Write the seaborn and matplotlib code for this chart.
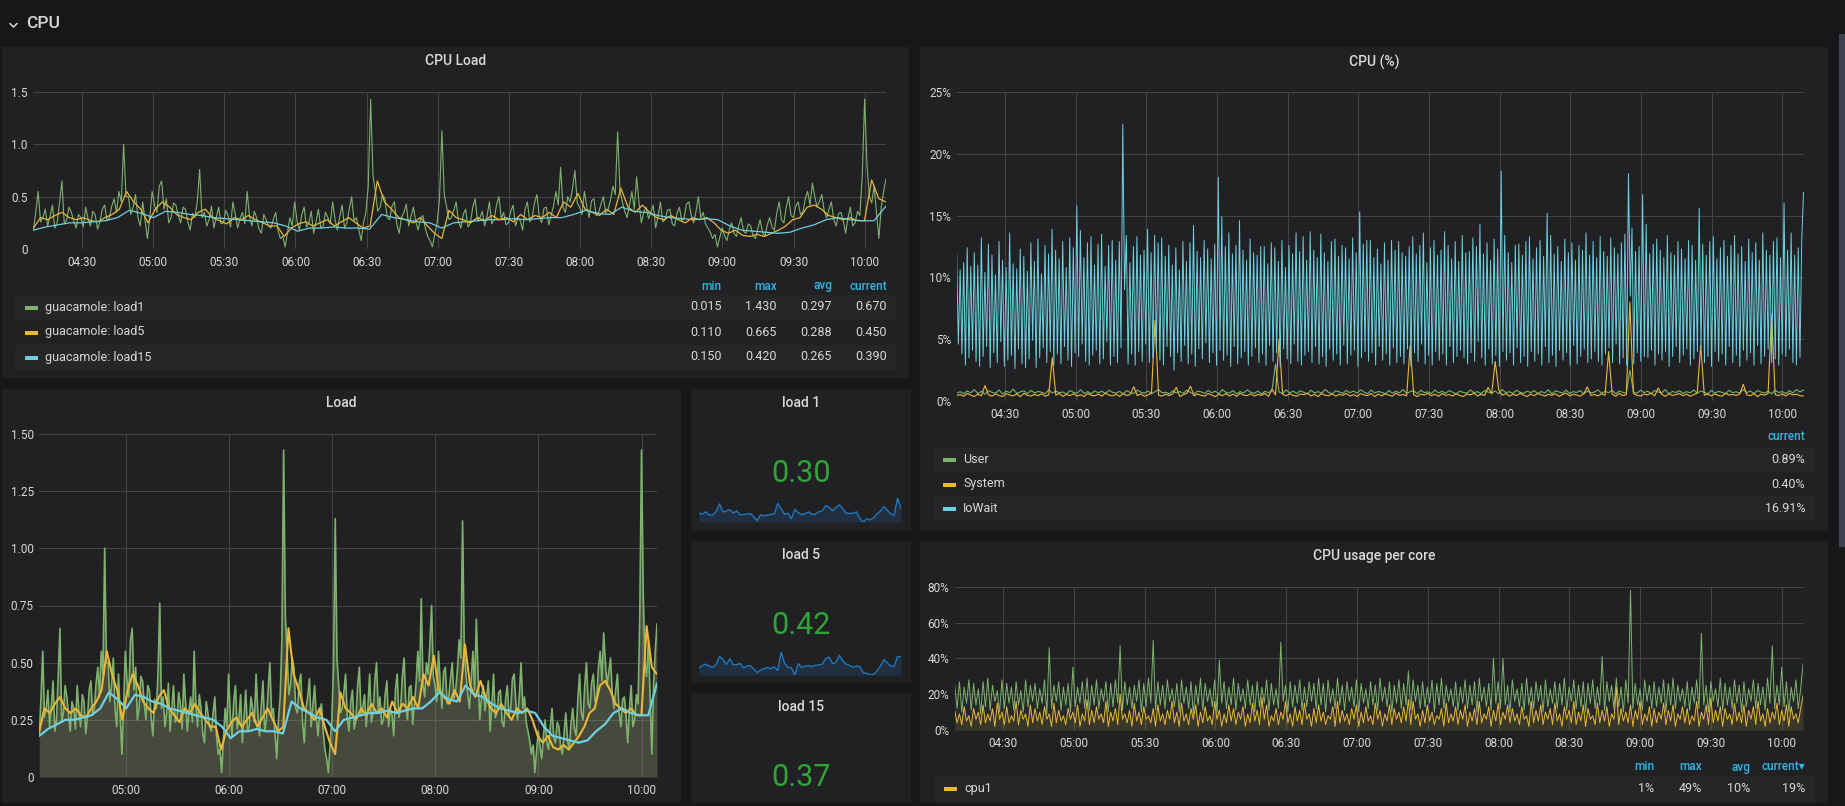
import numpy as np
import matplotlib
matplotlib.use('Agg')
import matplotlib.pyplot as plt
import seaborn as sns
from matplotlib.patches import Rectangle

W, H = 1845, 806

# time window shown by every graph, minutes after midnight (04:09.5 -> 10:09)
T_START = 249.5
T_END = 609.0

TICKS_30 = ['04:30', '05:00', '05:30', '06:00', '06:30', '07:00',
            '07:30', '08:00', '08:30', '09:00', '09:30', '10:00']
TICKS_60 = ['05:00', '06:00', '07:00', '08:00', '09:00', '10:00']

# load averages (~1 min apart for load1)
LOAD1 = [
    0.18, 0.35, 0.55, 0.26, 0.30, 0.38, 0.22, 0.31, 0.42, 0.20, 0.25, 0.44, 0.65, 0.24, 0.28, 0.40, 0.35, 0.27, 0.20, 0.33,
    0.30, 0.21, 0.40, 0.29, 0.22, 0.36, 0.33, 0.19, 0.26, 0.38, 0.42, 0.27, 0.30, 0.41, 0.48, 0.35, 0.55, 0.45, 1.00, 0.50,
    0.50, 0.33, 0.40, 0.52, 0.30, 0.22, 0.45, 0.28, 0.10, 0.30, 0.55, 0.42, 0.35, 0.60, 0.65, 0.38, 0.48, 0.25, 0.30, 0.44,
    0.42, 0.32, 0.25, 0.40, 0.38, 0.26, 0.18, 0.34, 0.30, 0.45, 0.76, 0.30, 0.35, 0.22, 0.28, 0.41, 0.20, 0.30, 0.40, 0.24,
    0.25, 0.37, 0.32, 0.21, 0.45, 0.33, 0.20, 0.29, 0.35, 0.24, 0.55, 0.31, 0.22, 0.36, 0.30, 0.19, 0.15, 0.33, 0.28, 0.22,
    0.20, 0.28, 0.35, 0.18, 0.10, 0.12, 0.02, 0.16, 0.30, 0.22, 0.45, 0.27, 0.18, 0.33, 0.40, 0.21, 0.25, 0.36, 0.15, 0.26,
    0.38, 0.20, 0.22, 0.35, 0.30, 0.24, 0.45, 0.28, 0.18, 0.31, 0.42, 0.20, 0.25, 0.38, 0.50, 0.27, 0.30, 0.19, 0.08, 0.25,
    0.35, 0.60, 1.43, 0.70, 0.55, 0.36, 0.40, 0.52, 0.48, 0.30, 0.28, 0.41, 0.45, 0.24, 0.15, 0.30, 0.35, 0.43, 0.22, 0.31,
    0.40, 0.26, 0.18, 0.29, 0.32, 0.20, 0.12, 0.08, 0.02, 0.14, 0.25, 0.48, 1.13, 0.52, 0.40, 0.28, 0.30, 0.37, 0.45, 0.26,
    0.20, 0.33, 0.38, 0.21, 0.25, 0.40, 0.48, 0.27, 0.30, 0.36, 0.22, 0.31, 0.45, 0.24, 0.28, 0.42, 0.50, 0.29, 0.35, 0.23,
    0.25, 0.36, 0.42, 0.22, 0.30, 0.27, 0.18, 0.38, 0.45, 0.26, 0.30, 0.44, 0.52, 0.31, 0.25, 0.39, 0.40, 0.23, 0.32, 0.41,
    0.55, 0.42, 0.78, 0.40, 0.35, 0.50, 0.45, 0.58, 0.75, 0.44, 0.40, 0.33, 0.55, 0.41, 0.30, 0.46, 0.48, 0.32, 0.35, 0.43,
    0.50, 0.34, 0.38, 0.47, 0.60, 0.52, 1.12, 0.55, 0.45, 0.36, 0.30, 0.42, 0.55, 0.38, 0.69, 0.44, 0.25, 0.35, 0.40, 0.29,
    0.35, 0.42, 0.20, 0.31, 0.45, 0.26, 0.28, 0.37, 0.38, 0.24, 0.22, 0.34, 0.40, 0.27, 0.30, 0.43, 0.45, 0.32, 0.25, 0.36,
    0.50, 0.30, 0.35, 0.24, 0.20, 0.16, 0.10, 0.14, 0.02, 0.11, 0.20, 0.13, 0.08, 0.18, 0.25, 0.15, 0.12, 0.22, 0.30, 0.17,
    0.15, 0.24, 0.22, 0.13, 0.10, 0.19, 0.28, 0.16, 0.12, 0.23, 0.30, 0.21, 0.18, 0.34, 0.45, 0.28, 0.25, 0.40, 0.50, 0.32,
    0.30, 0.41, 0.45, 0.33, 0.35, 0.48, 0.55, 0.42, 0.63, 0.50, 0.40, 0.46, 0.52, 0.36, 0.30, 0.38, 0.45, 0.28, 0.22, 0.34,
    0.35, 0.27, 0.15, 0.30, 0.40, 0.22, 0.25, 0.36, 0.32, 0.70, 1.43, 0.80, 0.50, 0.44, 0.60, 0.35, 0.10, 0.40, 0.55, 0.67,
]
LOAD5 = [
    0.20, 0.30, 0.28, 0.32, 0.35, 0.30, 0.28, 0.30, 0.27, 0.26,
    0.30, 0.33, 0.38, 0.55, 0.45, 0.38, 0.25, 0.38, 0.45, 0.40,
    0.33, 0.30, 0.28, 0.35, 0.38, 0.30, 0.27, 0.24, 0.30, 0.28,
    0.32, 0.28, 0.25, 0.22, 0.22, 0.12, 0.20, 0.24, 0.26, 0.22,
    0.25, 0.28, 0.22, 0.26, 0.30, 0.25, 0.20, 0.22, 0.65, 0.45,
    0.38, 0.30, 0.28, 0.25, 0.30, 0.22, 0.15, 0.10, 0.37, 0.30,
    0.28, 0.25, 0.30, 0.27, 0.32, 0.28, 0.30, 0.26, 0.33, 0.28,
    0.32, 0.30, 0.35, 0.30, 0.45, 0.40, 0.53, 0.38, 0.35, 0.32,
    0.38, 0.33, 0.58, 0.40, 0.35, 0.42, 0.35, 0.30, 0.28, 0.32,
    0.28, 0.25, 0.30, 0.28, 0.30, 0.25, 0.18, 0.15, 0.18, 0.13,
    0.12, 0.14, 0.12, 0.15, 0.18, 0.22, 0.28, 0.30, 0.40, 0.42,
    0.38, 0.32, 0.30, 0.28, 0.30, 0.27, 0.27, 0.66, 0.48, 0.45,
]
LOAD15 = [
    0.18, 0.21, 0.23, 0.25, 0.25, 0.26, 0.27, 0.30, 0.37, 0.34, 0.30, 0.36,
    0.35, 0.33, 0.32, 0.30, 0.29, 0.28, 0.27, 0.26, 0.25, 0.22, 0.17, 0.20,
    0.20, 0.21, 0.20, 0.20, 0.19, 0.33, 0.30, 0.28, 0.26, 0.25, 0.20, 0.25,
    0.26, 0.27, 0.28, 0.28, 0.29, 0.28, 0.29, 0.30, 0.30, 0.33, 0.37, 0.34,
    0.33, 0.40, 0.36, 0.35, 0.32, 0.30, 0.29, 0.28, 0.29, 0.28, 0.22, 0.18,
    0.17, 0.16, 0.15, 0.16, 0.20, 0.23, 0.28, 0.30, 0.28, 0.27, 0.27, 0.41,
]

# CPU (%) series
USER = [
    0.62, 0.75, 0.58, 0.81, 0.66, 0.92, 0.60, 0.78, 0.55, 0.84, 0.70, 0.63,
    0.88, 0.57, 0.79, 0.68, 0.95, 0.61, 0.74, 0.83, 0.59, 0.86, 0.65, 0.77,
    0.71, 0.58, 0.90, 0.64, 0.80, 0.67, 0.73, 0.56, 0.85, 0.69, 0.62, 0.91,
    0.60, 0.76, 0.58, 0.82, 0.66, 0.79, 0.61, 0.87, 0.70, 0.64, 0.78, 0.57,
    0.84, 0.68, 0.60, 0.89, 0.72, 0.63, 0.81, 0.59, 0.75, 0.93, 0.66, 0.71,
    0.58, 0.83, 0.65, 0.77, 0.62, 0.88, 0.69, 0.56, 0.80, 0.74, 0.61, 0.86,
    0.67, 0.79, 0.60, 0.92, 0.70, 0.63, 0.84, 0.58, 0.76, 0.65, 0.89, 0.71,
    0.62, 0.81, 0.57, 0.78, 0.68, 0.85, 3.00, 0.73, 0.60, 0.90, 0.66, 0.79,
    0.61, 0.83, 0.70, 0.58, 0.87, 0.65, 0.76, 0.63, 0.94, 0.69, 0.59, 0.82,
    0.74, 0.62, 0.86, 0.67, 0.80, 0.64, 0.91, 0.72, 0.60, 0.88, 0.65, 0.77,
    0.70, 0.58, 0.85, 0.63, 0.79, 0.66, 0.92, 0.61, 0.75, 0.83, 0.59, 0.87,
    0.68, 0.74, 0.60, 0.89, 0.65, 0.78, 0.62, 0.84, 0.71, 0.57, 0.80, 0.69,
    0.63, 0.90, 0.66, 0.76, 0.59, 0.85, 0.72, 0.64, 0.81, 0.58, 0.93, 0.67,
    0.75, 0.61, 0.87, 0.70, 0.62, 0.79, 0.68, 0.84, 0.60, 0.77, 0.65, 0.91,
    0.58, 0.82, 0.73, 0.64, 0.88, 0.61, 0.76, 0.69, 0.85, 0.57, 0.80, 0.66,
    0.72, 0.90, 0.63, 0.78, 0.67, 0.86, 0.59, 0.81, 0.70, 0.64, 2.50, 0.75,
    0.62, 0.88, 0.68, 0.79, 0.60, 0.84, 0.73, 0.65, 0.92, 0.58, 0.77, 0.69,
    0.83, 0.61, 0.76, 0.66, 0.89, 0.63, 0.80, 0.71, 0.57, 0.86, 0.64, 0.78,
    0.70, 0.59, 0.87, 0.67, 0.75, 0.62, 0.93, 0.68, 0.81, 0.60, 0.85, 0.72,
    0.64, 0.79, 0.58, 0.88, 0.69, 0.76, 0.61, 0.84, 0.66, 0.91, 0.73, 0.89,
]
SYSTEM = [
    0.45, 0.52, 0.38, 0.61, 0.47, 0.36, 0.55, 0.42, 1.25, 0.50, 0.39, 0.58,
    0.44, 0.36, 0.60, 0.48, 0.41, 0.57, 0.35, 0.63, 0.46, 0.40, 0.54, 0.43,
    0.59, 0.38, 0.50, 3.50, 0.47, 0.62, 0.37, 0.53, 0.44, 0.58, 0.40, 0.51,
    0.36, 0.61, 0.46, 0.42, 0.56, 0.39, 0.64, 0.48, 0.41, 0.55, 0.37, 0.60,
    0.45, 0.52, 1.15, 0.43, 0.58, 0.38, 0.49, 0.62, 6.50, 0.47, 0.40, 0.55,
    0.44, 0.59, 1.10, 0.36, 0.51, 0.63, 1.20, 0.42, 0.57, 0.46, 0.39, 0.61,
    0.48, 0.35, 0.54, 0.43, 0.60, 0.41, 0.56, 0.38, 0.62, 0.47, 0.44, 0.58,
    0.40, 0.53, 0.46, 0.61, 0.37, 0.95, 0.49, 5.00, 0.55, 0.42, 0.59, 0.45,
    0.38, 0.57, 0.50, 0.63, 0.41, 0.54, 0.36, 0.60, 0.47, 0.43, 0.58, 0.39,
    0.55, 0.46, 0.62, 0.40, 0.52, 0.37, 0.59, 0.48, 0.44, 0.61, 0.35, 0.56,
    0.42, 0.58, 0.47, 0.39, 0.64, 0.45, 0.53, 0.41, 4.50, 0.50, 0.36, 0.57,
    0.48, 0.62, 0.43, 0.55, 0.38, 0.60, 0.46, 0.52, 0.40, 0.59, 0.44, 0.37,
    0.56, 0.49, 0.63, 0.41, 0.53, 0.45, 1.10, 0.58, 3.20, 0.90, 0.47, 0.60,
    0.39, 0.55, 0.44, 0.62, 0.48, 0.36, 0.57, 0.43, 0.61, 0.50, 0.40, 0.54,
    0.46, 0.59, 0.37, 0.52, 0.64, 0.42, 0.55, 0.48, 0.39, 0.60, 1.15, 0.45,
    0.53, 0.41, 0.58, 0.47, 4.00, 0.56, 0.38, 0.62, 0.44, 0.51, 8.00, 0.61,
    0.46, 0.40, 0.57, 0.49, 0.63, 0.42, 1.05, 0.54, 0.37, 0.59, 0.45, 0.52,
    0.60, 0.43, 0.56, 0.38, 0.51, 0.64, 4.50, 0.47, 0.55, 0.41, 0.58, 0.44,
    0.39, 0.62, 0.48, 0.53, 0.45, 0.57, 1.35, 0.50, 0.42, 0.60, 0.36, 0.55,
    0.47, 0.61, 7.00, 0.52, 0.44, 0.58, 0.40, 0.63, 0.49, 0.56, 0.43, 0.40,
]
IOWAIT = [
    12.1, 4.6, 10.6, 3.8, 11.2, 2.9, 12.4, 3.5, 10.9, 4.1,
    12.0, 3.2, 11.0, 2.8, 13.2, 3.6, 10.4, 4.4, 12.7, 2.7,
    11.8, 3.9, 10.2, 3.1, 12.9, 4.8, 11.4, 2.8, 10.8, 3.3,
    13.6, 3.7, 11.1, 2.6, 10.7, 4.2, 12.3, 3.0, 11.7, 2.7,
    10.5, 3.4, 12.8, 4.9, 11.3, 2.7, 13.1, 3.5, 10.3, 4.3,
    12.6, 3.1, 11.9, 4.0, 13.9, 2.9, 12.2, 3.8, 11.5, 3.0,
    12.9, 4.4, 10.8, 3.3, 13.2, 2.8, 12.4, 3.9, 15.8, 3.6,
    13.8, 4.6, 11.6, 3.2, 12.8, 2.9, 13.3, 3.7, 11.0, 4.1,
    12.7, 3.0, 13.5, 3.4, 10.9, 4.8, 12.6, 2.9, 13.0, 3.6,
    11.4, 3.1, 12.9, 4.3, 22.4, 9.0, 13.4, 3.0, 11.2, 3.8,
    12.5, 2.9, 13.3, 4.0, 11.8, 3.2, 12.2, 4.6, 13.9, 3.1,
    12.0, 3.5, 13.4, 4.1, 12.8, 3.3, 13.2, 2.9, 11.7, 4.4,
    12.6, 3.6, 11.0, 2.5, 12.4, 3.9, 10.6, 3.2, 12.9, 4.5,
    11.3, 3.0, 12.8, 3.8, 14.2, 2.8, 12.1, 4.2, 11.6, 3.4,
    13.0, 4.7, 12.3, 3.1, 11.5, 3.9, 12.7, 2.9, 18.1, 4.1,
    14.9, 3.3, 12.5, 3.7, 13.6, 2.8, 11.9, 4.4, 12.6, 3.0,
    14.6, 3.5, 12.2, 4.0, 11.4, 2.9, 13.1, 3.6, 12.0, 4.3,
    11.8, 3.1, 12.5, 3.8, 12.5, 2.9, 11.1, 4.5, 12.8, 3.2,
    12.4, 3.9, 11.3, 2.8, 13.0, 4.2, 10.8, 3.4, 12.6, 3.0,
    11.9, 4.6, 13.6, 3.2, 12.1, 2.9, 13.3, 3.7, 11.4, 4.0,
    13.7, 3.1, 12.2, 4.4, 11.6, 3.0, 13.5, 3.6, 12.0, 2.8,
    11.3, 4.2, 12.9, 3.3, 13.1, 3.8, 11.7, 2.9, 12.6, 4.5,
    12.4, 3.0, 11.5, 3.7, 13.2, 4.1, 12.0, 2.8, 15.3, 3.5,
    12.7, 4.0, 13.0, 3.2, 13.0, 3.9, 11.6, 2.9, 12.3, 4.4,
    11.1, 3.3, 12.8, 3.8, 11.4, 2.9, 13.0, 4.3, 12.2, 3.1,
    12.9, 3.6, 12.0, 3.0, 11.7, 4.2, 12.5, 2.8, 13.3, 3.9,
    11.9, 3.2, 12.6, 4.6, 13.6, 3.0, 11.2, 3.7, 12.4, 2.9,
    13.0, 4.0, 11.8, 3.3, 12.2, 3.8, 13.7, 2.9, 12.6, 4.4,
    11.5, 3.1, 12.9, 3.6, 11.3, 4.1, 13.4, 3.5, 12.0, 3.0,
    12.1, 3.9, 13.2, 3.2, 12.5, 4.8, 14.3, 3.5, 11.9, 2.9,
    12.8, 4.2, 11.4, 3.0, 13.1, 3.7, 12.3, 2.8, 18.6, 4.0,
    13.4, 3.3, 12.0, 3.9, 11.2, 2.9, 12.6, 4.3, 12.7, 3.1,
    11.8, 3.6, 12.9, 2.8, 13.3, 4.0, 11.5, 3.2, 12.4, 3.8,
    13.0, 2.9, 11.7, 4.4, 15.2, 3.1, 13.4, 3.7, 11.9, 2.8,
    12.5, 4.1, 11.3, 3.3, 13.1, 3.9, 12.0, 2.9, 12.8, 4.5,
    11.4, 3.0, 12.6, 3.6, 12.2, 4.2, 13.6, 3.1, 11.8, 3.4,
    12.9, 4.0, 11.6, 3.2, 13.3, 2.9, 12.1, 3.8, 11.7, 4.3,
    13.2, 3.1, 12.4, 4.6, 11.9, 3.0, 12.8, 3.5, 13.5, 2.9,
    18.4, 8.5, 14.0, 3.0, 12.1, 3.9, 12.5, 3.2, 16.7, 3.6,
    14.3, 3.5, 11.9, 4.1, 12.7, 2.9, 13.1, 3.8, 12.2, 3.3,
    11.6, 4.0, 13.4, 2.8, 12.0, 3.6, 11.8, 4.4, 12.9, 3.1,
    12.3, 3.7, 11.5, 4.2, 13.0, 2.9, 12.6, 3.4, 11.4, 4.0,
    15.6, 4.3, 12.7, 3.1, 11.8, 3.6, 12.9, 2.8, 13.3, 4.0,
    11.5, 3.2, 12.4, 3.8, 13.0, 2.9, 11.7, 4.4, 12.6, 3.1,
    13.4, 3.7, 11.9, 2.8, 12.5, 4.1, 11.3, 3.3, 13.1, 3.9,
    12.0, 2.9, 12.8, 4.5, 11.4, 3.0, 13.6, 3.6, 12.2, 4.2,
    11.8, 3.1, 12.9, 3.4, 13.2, 2.9, 11.6, 3.8, 16.0, 3.6,
    12.2, 4.2, 13.6, 3.1, 11.8, 2.9, 12.4, 3.5, 13.0, 16.9,
]

# CPU usage per core (%)
CPU0 = [
    25, 12, 27, 10, 24, 15, 28, 11, 26, 14, 23, 9,
    27, 13, 29, 11, 25, 16, 22, 10, 28, 12, 26, 15,
    24, 11, 27, 14, 22, 10, 28, 13, 25, 16, 26, 12,
    23, 15, 28, 9, 46, 12, 25, 16, 27, 11, 24, 14,
    26, 10, 35, 13, 24, 15, 27, 12, 29, 11, 25, 14,
    28, 12, 23, 16, 27, 10, 26, 13, 28, 15, 47, 11,
    27, 14, 24, 12, 25, 16, 28, 10, 26, 13, 29, 15,
    50, 11, 27, 14, 25, 12, 28, 16, 23, 13, 26, 10,
    28, 15, 24, 12, 27, 9, 25, 14, 29, 11, 26, 16,
    23, 13, 28, 10, 39, 15, 27, 12, 24, 14, 29, 11,
    26, 16, 23, 12, 28, 14, 25, 10, 27, 13, 24, 15,
    28, 11, 26, 14, 23, 12, 49, 16, 25, 10, 27, 13,
    25, 15, 28, 11, 24, 13, 27, 16, 26, 12, 29, 14,
    26, 10, 28, 15, 23, 12, 29, 14, 25, 11, 27, 16,
    24, 13, 28, 10, 26, 15, 23, 12, 27, 14, 25, 11,
    29, 16, 24, 13, 27, 10, 25, 15, 28, 12, 26, 14,
    33, 11, 28, 16, 25, 12, 27, 13, 24, 15, 28, 10,
    26, 14, 29, 12, 25, 16, 23, 13, 27, 11, 24, 15,
    28, 12, 25, 14, 27, 10, 29, 16, 24, 13, 26, 11,
    40, 15, 27, 12, 40, 14, 25, 10, 28, 16, 23, 13,
    26, 11, 29, 14, 24, 12, 27, 16, 25, 10, 28, 13,
    23, 15, 27, 12, 26, 14, 29, 11, 24, 16, 28, 12,
    25, 13, 27, 10, 26, 15, 28, 12, 24, 14, 41, 11,
    27, 16, 25, 12, 29, 13, 24, 10, 28, 15, 78, 12,
    26, 14, 23, 11, 28, 16, 25, 12, 27, 13, 24, 15,
    28, 10, 26, 14, 29, 12, 25, 16, 23, 13, 27, 11,
    24, 15, 28, 12, 54, 14, 25, 10, 27, 16, 23, 13,
    29, 11, 26, 14, 24, 12, 28, 15, 25, 10, 27, 13,
    23, 16, 28, 12, 26, 14, 24, 11, 29, 15, 47, 12,
    25, 14, 35, 13, 27, 10, 24, 16, 28, 12, 23, 37,
]
CPU1 = [
    11, 4, 9, 3, 13, 5, 8, 2, 12, 6, 10, 3,
    14, 4, 9, 5, 12, 2, 15, 6, 10, 3, 13, 4,
    8, 5, 16, 3, 11, 6, 9, 2, 14, 4, 12, 5,
    10, 3, 13, 6, 9, 2, 15, 4, 11, 5, 8, 3,
    12, 6, 10, 4, 14, 2, 9, 5, 17, 3, 11, 4,
    13, 6, 9, 4, 16, 2, 10, 5, 12, 3, 20, 6,
    9, 4, 11, 2, 15, 5, 10, 3, 13, 6, 8, 4,
    12, 2, 14, 5, 9, 3, 11, 6, 16, 4, 10, 2,
    15, 5, 9, 3, 12, 6, 14, 2, 10, 4, 13, 5,
    8, 3, 16, 6, 11, 2, 9, 4, 14, 5, 12, 3,
    10, 6, 13, 2, 9, 4, 15, 5, 11, 3, 18, 6,
    14, 2, 8, 5, 12, 3, 10, 6, 16, 4, 9, 2,
    13, 5, 11, 3, 15, 6, 9, 2, 12, 4, 14, 5,
    10, 3, 8, 6, 13, 2, 16, 4, 11, 5, 9, 3,
    12, 6, 14, 2, 10, 4, 13, 5, 8, 3, 15, 6,
    11, 2, 9, 5, 14, 3, 12, 6, 10, 4, 13, 5,
    17, 3, 16, 6, 9, 2, 11, 4, 14, 5, 10, 3,
    8, 6, 12, 2, 15, 4, 9, 5, 13, 3, 11, 6,
    14, 2, 10, 5, 12, 3, 16, 4, 9, 6, 13, 2,
    11, 5, 15, 3, 10, 6, 14, 4, 12, 5, 9, 3,
    13, 6, 8, 2, 16, 4, 11, 5, 14, 3, 10, 6,
    12, 3, 15, 5, 9, 2, 13, 6, 11, 4, 16, 3,
    10, 5, 14, 2, 12, 6, 8, 3, 15, 4, 11, 5,
    13, 2, 9, 6, 24, 3, 12, 5, 10, 4, 14, 2,
    11, 6, 16, 3, 9, 5, 13, 2, 12, 4, 10, 6,
    15, 3, 11, 5, 14, 2, 9, 6, 13, 4, 12, 3,
    8, 5, 16, 2, 10, 6, 14, 3, 18, 4, 11, 5,
    13, 2, 12, 6, 9, 3, 15, 5, 10, 4, 14, 2,
    11, 6, 13, 3, 16, 5, 9, 2, 12, 4, 10, 6,
    15, 3, 11, 5, 14, 2, 13, 6, 9, 4, 12, 19,
]

LOAD_NAMES = ['guacamole: load1', 'guacamole: load5', 'guacamole: load15']
LOAD_STATS = [['0.015', '1.430', '0.297', '0.670'],
              ['0.110', '0.665', '0.288', '0.450'],
              ['0.150', '0.420', '0.265', '0.390']]
CPU_NAMES = ['User', 'System', 'IoWait']
CPU_CURRENT = ['0.89%', '0.40%', '16.91%']
CORE_NAMES = ['cpu1']
CORE_STATS = [['1%', '49%', '10%', '19%']]
STAT_TITLES = ['load 1', 'load 5', 'load 15']
STAT_VALUES = ['0.30', '0.42', '0.37']

BG = '#161719'
PANEL = '#212124'
BAND = '#262629'
TEXT = '#d8d9da'
GRID = '#434447'
BLUE_HEAD = '#33b5e5'
GREEN = '#7eb26d'
YELLOW = '#eab839'
CYAN = '#6ed0e0'
STAT_GREEN = '#31a338'
SPARK = '#1f78c1'

sns.set_style('dark')
plt.rcParams['font.family'] = ['Roboto', 'DejaVu Sans']

fig = plt.figure(figsize=(W / 100, H / 100), dpi=100)
fig.patch.set_facecolor(BG)

bg = fig.add_axes([0, 0, 1, 1])
bg.set_xlim(0, W)
bg.set_ylim(H, 0)
bg.axis('off')


def px_axes(x0, y0, x1, y1):
    a = fig.add_axes([x0 / W, 1 - y1 / H, (x1 - x0) / W, (y1 - y0) / H])
    a.set_facecolor('none')
    return a


def to_min(label):
    h, m = label.split(':')
    return int(h) * 60 + int(m)


def panel(x0, y0, x1, y1, title=None, ty=None):
    bg.add_patch(Rectangle((x0, y0), x1 - x0, y1 - y0, color=PANEL, lw=0))
    if title:
        bg.text((x0 + x1) / 2, ty, title, color=TEXT, fontsize=10,
                fontweight='medium', ha='center', va='center')


def line(ax, values, color, lw):
    t = np.linspace(T_START, T_END, len(values))
    sns.lineplot(x=t, y=values, ax=ax, color=color, linewidth=lw,
                 estimator=None, errorbar=None, legend=False)
    return t


def style_graph(ax, yticks, ylabels, xlabels):
    ax.set_xlim(T_START, T_END)
    ax.set_ylim(yticks[0], yticks[-1])
    ax.set_xticks([to_min(l) for l in xlabels], xlabels)
    ax.set_yticks(yticks, ylabels)
    ax.grid(True, color=GRID, lw=0.8)
    ax.set_axisbelow(True)
    ax.tick_params(axis='both', length=0, colors=TEXT, labelsize=8.5)
    ax.tick_params(axis='x', pad=5)
    ax.tick_params(axis='y', pad=4)
    ax.set_xlabel('')
    ax.set_ylabel('')
    for s in ax.spines.values():
        s.set_visible(False)


def legend_row(y, x0, x1, shade, color, name):
    if shade:
        bg.add_patch(Rectangle((x0, y - 12.5), x1 - x0, 25, color=BAND, lw=0))
    bg.add_patch(Rectangle((x0 + 10, y - 1.5), 13, 4, color=color, lw=0))
    bg.text(x0 + 30, y, name, color=TEXT, fontsize=9, ha='left', va='center')


# row header
bg.plot([10, 13.5, 17], [23.5, 27, 23.5], color=TEXT, lw=1.1)
bg.text(26, 23, 'CPU', color=TEXT, fontsize=12.5, fontweight='medium',
        ha='left', va='center')

# scrollbar
bg.add_patch(Rectangle((1839, 34), 6, 513, color='#3f414e', lw=0))

# ---- CPU Load ----
panel(2, 47, 909, 378, 'CPU Load', 61)
ax = px_axes(33.4, 92, 886, 249)
line(ax, LOAD1, GREEN, 0.8)
line(ax, LOAD5, YELLOW, 0.9)
line(ax, LOAD15, CYAN, 0.9)
style_graph(ax, [0, 0.5, 1.0, 1.5], ['0', '0.5', '1.0', '1.5'], TICKS_30)

cols = [721.6, 777, 832, 887]
for x, h in zip(cols, ['min', 'max', 'avg', 'current']):
    bg.text(x, 286, h, color=BLUE_HEAD, fontsize=8.5, fontweight='medium',
            ha='right', va='center')
for i, (name, stats, c) in enumerate(zip(LOAD_NAMES, LOAD_STATS, [GREEN, YELLOW, CYAN])):
    y = 307 + 25 * i
    legend_row(y, 14.7, 896, i % 2 == 0, c, name)
    for x, s in zip(cols, stats):
        bg.text(x, y, s, color=TEXT, fontsize=9, ha='right', va='center')

# ---- CPU (%) ----
panel(920, 47, 1828, 531, 'CPU (%)', 62)
ax = px_axes(956.6, 92, 1803.5, 401)
line(ax, USER, GREEN, 0.8)
line(ax, SYSTEM, YELLOW, 0.8)
line(ax, IOWAIT, CYAN, 0.7)
style_graph(ax, [0, 5, 10, 15, 20, 25], ['0%', '5%', '10%', '15%', '20%', '25%'], TICKS_30)

bg.text(1805, 437, 'current', color=BLUE_HEAD, fontsize=8.5, fontweight='medium',
        ha='right', va='center')
for i, (name, cur, c) in enumerate(zip(CPU_NAMES, CPU_CURRENT, [GREEN, YELLOW, CYAN])):
    y = 459.5 + 24.5 * i
    legend_row(y, 933, 1814, i % 2 == 0, c, name)
    bg.text(1805, y, cur, color=TEXT, fontsize=9, ha='right', va='center')

# ---- Load ----
panel(2, 389, 681, 803, 'Load', 403)
ax = px_axes(39.3, 434, 657, 777)
t1 = np.linspace(T_START, T_END, len(LOAD1))
ax.fill_between(t1, LOAD1, 0, color='#8b996e', alpha=0.35, lw=0)
line(ax, LOAD1, GREEN, 1.2)
line(ax, LOAD5, YELLOW, 1.5)
line(ax, LOAD15, CYAN, 1.6)
style_graph(ax, [0, 0.25, 0.5, 0.75, 1.0, 1.25, 1.5],
            ['0', '0.25', '0.50', '0.75', '1.00', '1.25', '1.50'], TICKS_60)

# ---- single stats ----
stat_boxes = [(389, 531), (541, 683), (693, 803)]
for (y0, y1), title, val in zip(stat_boxes, STAT_TITLES, STAT_VALUES):
    panel(691, y0, 911, y1, title, y0 + 14)
    bg.text(801, y0 + 84, val, color=STAT_GREEN, fontsize=22, ha='center', va='center')

sparks = [(np.array(LOAD1).reshape(-1, 6).mean(axis=1), 498, 522),
          (np.array(LOAD5).reshape(-1, 2).mean(axis=1), 652, 675)]
for vals, y0, y1 in sparks:
    sa = px_axes(699, y0, 901, y1)
    ts = np.linspace(0, 1, len(vals))
    sa.fill_between(ts, vals, vals.min(), color=SPARK, alpha=0.18, lw=0)
    sns.lineplot(x=ts, y=vals, ax=sa, color=SPARK, linewidth=1.0,
                 estimator=None, errorbar=None, legend=False)
    sa.set_xlim(0, 1)
    sa.set_ylim(vals.min(), vals.max())
    sa.axis('off')

# ---- CPU usage per core ----
panel(920, 541, 1828, 803, 'CPU usage per core', 556)
ax = px_axes(954.7, 586.7, 1803, 730)
tc = np.linspace(T_START, T_END, len(CPU0))
ax.fill_between(tc, CPU0, 0, color=GREEN, alpha=0.06, lw=0)
ax.fill_between(tc, CPU1, 0, color=YELLOW, alpha=0.10, lw=0)
line(ax, CPU0, GREEN, 0.7)
line(ax, CPU1, YELLOW, 0.7)
style_graph(ax, [0, 20, 40, 60, 80], ['0%', '20%', '40%', '60%', '80%'], TICKS_30)

cols = [1654, 1702, 1750, 1805]
for x, h in zip(cols, ['min', 'max', 'avg', 'current\u25be']):
    bg.text(x, 767, h, color=BLUE_HEAD, fontsize=8.5, fontweight='medium',
            ha='right', va='center')
for name, stats in zip(CORE_NAMES, CORE_STATS):
    legend_row(788.5, 934, 1815, True, YELLOW, name)
    for x, s in zip(cols, stats):
        bg.text(x, 788.5, s, color=TEXT, fontsize=9, ha='right', va='center')

fig.savefig('out.png', dpi=100, facecolor=BG)
